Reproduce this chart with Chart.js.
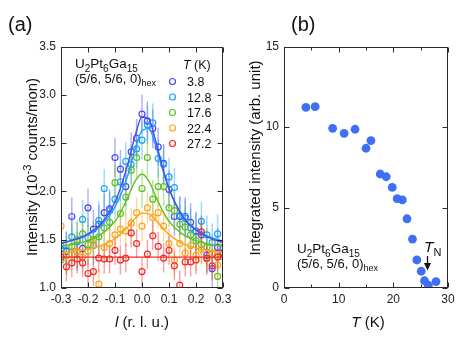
<!DOCTYPE html>
<html>
<head>
<meta charset="utf-8">
<script src="https://cdn.jsdelivr.net/npm/chart.js@4.4.1/dist/chart.umd.min.js"></script>
<style>
  html, body { margin: 0; padding: 0; background: #fff; }
  #wrap { position: relative; width: 463px; height: 340px; overflow: hidden; }
  #chartA { position: absolute; left: 0; top: 0; }
  #chartB { position: absolute; left: 236px; top: 0; }
</style>
</head>
<body>
<div id="wrap">
  <canvas id="chartA" width="236" height="340"></canvas>
  <canvas id="chartB" width="227" height="340"></canvas>
</div>
<script>
const FONT = '"Liberation Sans", Arial, Helvetica, sans-serif';

// ---- panel (a): l scans at several temperatures ----
const temps = ["3.8", "12.8", "17.6", "22.4", "27.2"];
const colors = ["#4a4af2", "#1ea2f6", "#5fc125", "#ffa31a", "#f42a2a"];
const barColors = [
  "rgba(74,74,242,0.45)", "rgba(30,162,246,0.45)", "rgba(95,193,37,0.45)",
  "rgba(255,163,26,0.45)", "rgba(244,42,42,0.45)"
];
const errA = [0.2, 0.2, 0.2, 0.16, 0.15];

const lPoints = [-0.30, -0.28, -0.26, -0.24, -0.22, -0.20, -0.18, -0.16, -0.14, -0.12, -0.10,
  -0.08, -0.06, -0.04, -0.02, 0.00, 0.02, 0.04, 0.06, 0.08, 0.10,
  0.12, 0.14, 0.16, 0.18, 0.20, 0.22, 0.24, 0.26, 0.28, 0.30];

const int38 = [1.40, 1.38, 1.74, 1.38, 1.41, 1.83, 1.61, 1.66, 1.78, 1.82, 2.35,
  2.23, 2.05, 2.41, 2.55, 2.80, 2.73, 2.65, 2.46, 2.29, 2.02,
  1.74, 1.74, 1.74, 1.68, 1.59, 1.55, 1.34, 1.20, 1.42, 1.36];
const int128 = [1.44, 1.39, 1.53, 1.48, 1.71, 1.52, 1.44, 1.70, 2.03, 1.80, 1.92,
  2.10, 2.31, 2.28, 2.44, 2.53, 2.69, 2.71, 2.34, 2.28, 2.15,
  2.04, 1.75, 1.72, 1.62, 1.58, 1.69, 1.55, 1.47, 1.56, 1.42];
const int176 = [1.29, 1.34, 1.43, 1.50, 1.56, 1.45, 1.50, 1.53, 1.62, 1.68, 2.09,
  1.77, 1.94, 2.22, 2.35, 2.03, 2.35, 1.92, 2.05, 2.05, 1.83,
  1.80, 1.66, 1.63, 1.55, 1.49, 1.45, 1.42, 1.35, 1.12, 1.32];
const int224 = [1.64, 1.33, 1.35, 1.38, 1.32, 1.38, 1.47, 1.04, 1.42, 1.46, 1.55,
  1.61, 1.59, 1.67, 1.78, 1.64, 1.83, 1.73, 1.78, 1.64, 1.46,
  1.29, 1.46, 1.36, 1.44, 1.34, 1.40, 1.30, 1.36, 1.24, 1.46];
const int272 = [1.32, 1.22, 1.26, 1.30, 1.26, 1.15, 1.17, 1.31, 1.30, 1.30, 1.39,
  1.29, 1.31, 1.57, 1.46, 1.17, 1.35, 1.54, 1.43, 1.31, 1.39,
  1.23, 1.03, 1.27, 1.27, 1.29, 1.58, 1.31, 1.23, 1.32, 1.36];

// fitted curves
const lFit = [-0.3, -0.25, -0.2, -0.15, -0.1, -0.075, -0.05, -0.025, 0, 0.025, 0.05, 0.075, 0.1, 0.15, 0.2, 0.25, 0.3];
const lFlat = [-0.3, 0.3];
const fit38 = [1.46, 1.50, 1.56, 1.67, 1.89, 2.075, 2.31, 2.58, 2.77, 2.75, 2.53, 2.26, 2.03, 1.74, 1.60, 1.52, 1.47];
const fit128 = [1.47, 1.50, 1.55, 1.65, 1.84, 1.99, 2.19, 2.44, 2.63, 2.65, 2.48, 2.24, 2.025, 1.75, 1.60, 1.53, 1.485];
const fit176 = [1.433, 1.454, 1.49, 1.557, 1.69, 1.806, 1.955, 2.109, 2.18, 2.109, 1.955, 1.806, 1.69, 1.557, 1.49, 1.454, 1.433];
const fit224 = [1.365, 1.378, 1.40, 1.438, 1.51, 1.568, 1.641, 1.721, 1.775, 1.768, 1.706, 1.626, 1.555, 1.461, 1.412, 1.385, 1.37];
const fit272 = [1.32, 1.32];

// ---- panel (b): integrated intensity vs T ----
const tempB = [4.0, 5.7, 8.9, 11.0, 13.0, 15.0, 15.9, 17.6, 18.7, 19.8, 20.7, 21.65, 22.5, 23.5, 24.3, 25.1, 25.7, 26.4, 27.8];
const intB = [11.22, 11.26, 9.92, 9.61, 9.86, 8.68, 9.15, 7.08, 6.91, 6.25, 5.55, 5.47, 4.30, 3.04, 1.74, 1.04, 0.45, 0.17, 0.39];
const minorTB = [5, 15, 25];

function fontFor(kind, size) {
  if (kind === "i") return "italic " + size + "px " + FONT;
  if (kind === "sub" || kind === "sup") return Math.round(size * 0.72) + "px " + FONT;
  return size + "px " + FONT;
}

function drawRich(ctx, x, y, parts, size, align) {
  ctx.textAlign = "left";
  ctx.textBaseline = "alphabetic";
  let cx = x;
  if (align === "center") {
    let w = 0;
    for (const [t, k] of parts) { ctx.font = fontFor(k, size); w += ctx.measureText(t).width; }
    cx = x - w / 2;
  }
  for (const [t, k] of parts) {
    ctx.font = fontFor(k, size);
    let dy = 0;
    if (k === "sub") dy = size * 0.28;
    if (k === "sup") dy = -size * 0.42;
    ctx.fillText(t, cx, y + dy);
    cx += ctx.measureText(t).width;
  }
}

const formula = [["U", "n"], ["2", "sub"], ["Pt", "n"], ["6", "sub"], ["Ga", "n"], ["15", "sub"]];
const qvec = [["(5/6, 5/6, 0)", "n"], ["hex", "sub"]];

// box around the plot with inward ticks on all four sides
const frameTicks = {
  id: "frameTicks",
  afterDraw(chart, args, opts) {
    const { ctx, chartArea: a, scales } = chart;
    const L = Math.round(a.left) + 0.5, R = Math.round(a.right) - 0.5;
    const T = Math.round(a.top) + 0.5, B = Math.round(a.bottom) - 0.5;
    ctx.save();
    ctx.strokeStyle = "#2a2a2a";
    ctx.lineWidth = 1;
    ctx.strokeRect(L, T, R - L, B - T);
    ctx.beginPath();
    const tx = (v, len) => {
      const p = Math.round(scales.x.getPixelForValue(v)) + 0.5;
      ctx.moveTo(p, B); ctx.lineTo(p, B - len);
      ctx.moveTo(p, T); ctx.lineTo(p, T + len);
    };
    const ty = (v, len) => {
      const p = Math.round(scales.y.getPixelForValue(v)) + 0.5;
      ctx.moveTo(L, p); ctx.lineTo(L + len, p);
      ctx.moveTo(R, p); ctx.lineTo(R - len, p);
    };
    scales.x.ticks.forEach(t => tx(t.value, 5));
    scales.y.ticks.forEach(t => ty(t.value, 5));
    (opts.minorX || []).forEach(v => tx(v, 3));
    ctx.stroke();
    ctx.restore();
  }
};

const errorBars = {
  id: "errorBars",
  beforeDatasetsDraw(chart) {
    const { ctx, chartArea: a, scales: { x, y } } = chart;
    ctx.save();
    ctx.beginPath();
    ctx.rect(a.left, a.top, a.right - a.left, a.bottom - a.top);
    ctx.clip();
    ctx.lineWidth = 1.4;
    chart.data.datasets.forEach(ds => {
      if (!ds.err) return;
      ctx.strokeStyle = ds.errColor;
      ds.data.forEach(p => {
        const px = x.getPixelForValue(p.x);
        ctx.beginPath();
        ctx.moveTo(px, y.getPixelForValue(p.y - ds.err));
        ctx.lineTo(px, y.getPixelForValue(p.y + ds.err));
        ctx.stroke();
      });
    });
    ctx.restore();
  }
};

const textA = {
  id: "textA",
  afterDraw(chart) {
    const ctx = chart.ctx;
    ctx.save();
    ctx.fillStyle = "#111";
    drawRich(ctx, 8, 31, [["(a)", "n"]], 20);
    drawRich(ctx, 75, 68, formula, 13.5);
    drawRich(ctx, 75, 82.5, qvec, 13);
    drawRich(ctx, 183, 69, [["T", "i"], [" (K)", "n"]], 12.5);
    const rowsY = [81.5, 97, 112.5, 128, 143.5];
    temps.forEach((t, i) => {
      ctx.strokeStyle = colors[i];
      ctx.lineWidth = 1.2;
      ctx.beginPath();
      ctx.arc(172.5, rowsY[i], 3, 0, Math.PI * 2);
      ctx.stroke();
      ctx.fillStyle = "#111";
      drawRich(ctx, 187, rowsY[i] + 4.5, [[t, "n"]], 12.5);
    });
    drawRich(ctx, 142, 327, [["l", "i"], [" (r. l. u.)", "n"]], 15, "center");
    ctx.translate(37, 167);
    ctx.rotate(-Math.PI / 2);
    drawRich(ctx, 0, 0, [["Intensity (10", "n"], ["-3", "sup"], [" counts/mon)", "n"]], 15, "center");
    ctx.restore();
  }
};

const textB = {
  id: "textB",
  afterDraw(chart) {
    const ctx = chart.ctx;
    const ox = 236;
    ctx.save();
    ctx.fillStyle = "#111";
    drawRich(ctx, 291 - ox, 31, [["(b)", "n"]], 20);
    drawRich(ctx, 297 - ox, 253, formula, 13.5);
    drawRich(ctx, 297 - ox, 267.5, qvec, 13);
    drawRich(ctx, 424 - ox, 252, [["T", "i"], ["N", "sub"]], 15.5);
    // arrow pointing at T_N
    const ax = 427.5 - ox;
    ctx.strokeStyle = "#111";
    ctx.lineWidth = 1.3;
    ctx.beginPath();
    ctx.moveTo(ax, 256); ctx.lineTo(ax, 265);
    ctx.stroke();
    ctx.beginPath();
    ctx.moveTo(ax - 3.5, 263); ctx.lineTo(ax + 3.5, 263); ctx.lineTo(ax, 270.5);
    ctx.closePath();
    ctx.fill();
    drawRich(ctx, 368 - ox, 327, [["T", "i"], [" (K)", "n"]], 15, "center");
    ctx.translate(260 - ox, 158);
    ctx.rotate(-Math.PI / 2);
    drawRich(ctx, 0, 0, [["Integrated intensity (arb. unit)", "n"]], 15, "center");
    ctx.restore();
  }
};

function tickFont() {
  return { family: FONT, size: 12 };
}

// ---- build panel (a) ----
const seriesA = [int38, int128, int176, int224, int272];
const fitsA = [fit38, fit128, fit176, fit224, fit272];
const fitX = [lFit, lFit, lFit, lFit, lFlat];

const datasetsA = [];
seriesA.forEach((vals, i) => {
  datasetsA.push({
    label: temps[i] + " K",
    data: lPoints.map((l, k) => ({ x: l, y: vals[k] })),
    showLine: false,
    pointStyle: "circle",
    pointRadius: 3,
    pointBorderWidth: 1.2,
    pointBackgroundColor: "rgba(0,0,0,0)",
    pointBorderColor: colors[i],
    err: errA[i],
    errColor: barColors[i],
    order: 10 - i
  });
});
fitsA.forEach((vals, i) => {
  datasetsA.push({
    label: temps[i] + " K fit",
    data: fitX[i].map((l, k) => ({ x: l, y: vals[k] })),
    showLine: true,
    pointRadius: 0,
    borderColor: colors[i],
    borderWidth: 1.4,
    cubicInterpolationMode: "monotone",
    fill: false,
    order: 1
  });
});

new Chart(document.getElementById("chartA"), {
  type: "scatter",
  data: { datasets: datasetsA },
  options: {
    responsive: false,
    animation: false,
    layout: { padding: { left: 0, top: 46.5, right: 13, bottom: 0 } },
    plugins: {
      legend: { display: false },
      tooltip: { enabled: false },
      frameTicks: {}
    },
    scales: {
      x: {
        type: "linear", min: -0.3, max: 0.3,
        grid: { display: false, drawTicks: false },
        border: { display: false },
        ticks: {
          stepSize: 0.1, padding: 4, color: "#222", font: tickFont(), maxRotation: 0, autoSkip: false,
          callback: v => (Math.abs(v) < 1e-9 ? 0 : v).toFixed(1)
        },
        afterFit: s => { s.height = 52; }
      },
      y: {
        type: "linear", min: 1.0, max: 3.5,
        grid: { display: false, drawTicks: false },
        border: { display: false },
        ticks: {
          stepSize: 0.5, padding: 5, color: "#222", font: tickFont(), autoSkip: false,
          callback: v => v.toFixed(1)
        },
        afterFit: s => { s.width = 61; }
      }
    }
  },
  plugins: [errorBars, frameTicks, textA]
});

// ---- build panel (b) ----
new Chart(document.getElementById("chartB"), {
  type: "scatter",
  data: {
    datasets: [{
      label: "integrated intensity",
      data: tempB.map((t, k) => ({ x: t, y: intB[k] })),
      pointRadius: 4.4,
      pointBorderWidth: 0,
      pointBackgroundColor: "#3f6ff2",
      pointBorderColor: "#3f6ff2"
    }]
  },
  options: {
    responsive: false,
    animation: false,
    layout: { padding: { left: 0, top: 46.5, right: 15, bottom: 0 } },
    plugins: {
      legend: { display: false },
      tooltip: { enabled: false },
      frameTicks: { minorX: minorTB }
    },
    scales: {
      x: {
        type: "linear", min: 0, max: 30,
        grid: { display: false, drawTicks: false },
        border: { display: false },
        ticks: { stepSize: 10, padding: 4, color: "#222", font: tickFont(), maxRotation: 0, autoSkip: false },
        afterFit: s => { s.height = 52; }
      },
      y: {
        type: "linear", min: 0, max: 15,
        grid: { display: false, drawTicks: false },
        border: { display: false },
        ticks: { stepSize: 5, padding: 5, color: "#222", font: tickFont(), autoSkip: false },
        afterFit: s => { s.width = 48; }
      }
    }
  },
  plugins: [frameTicks, textB]
});
</script>
</body>
</html>
